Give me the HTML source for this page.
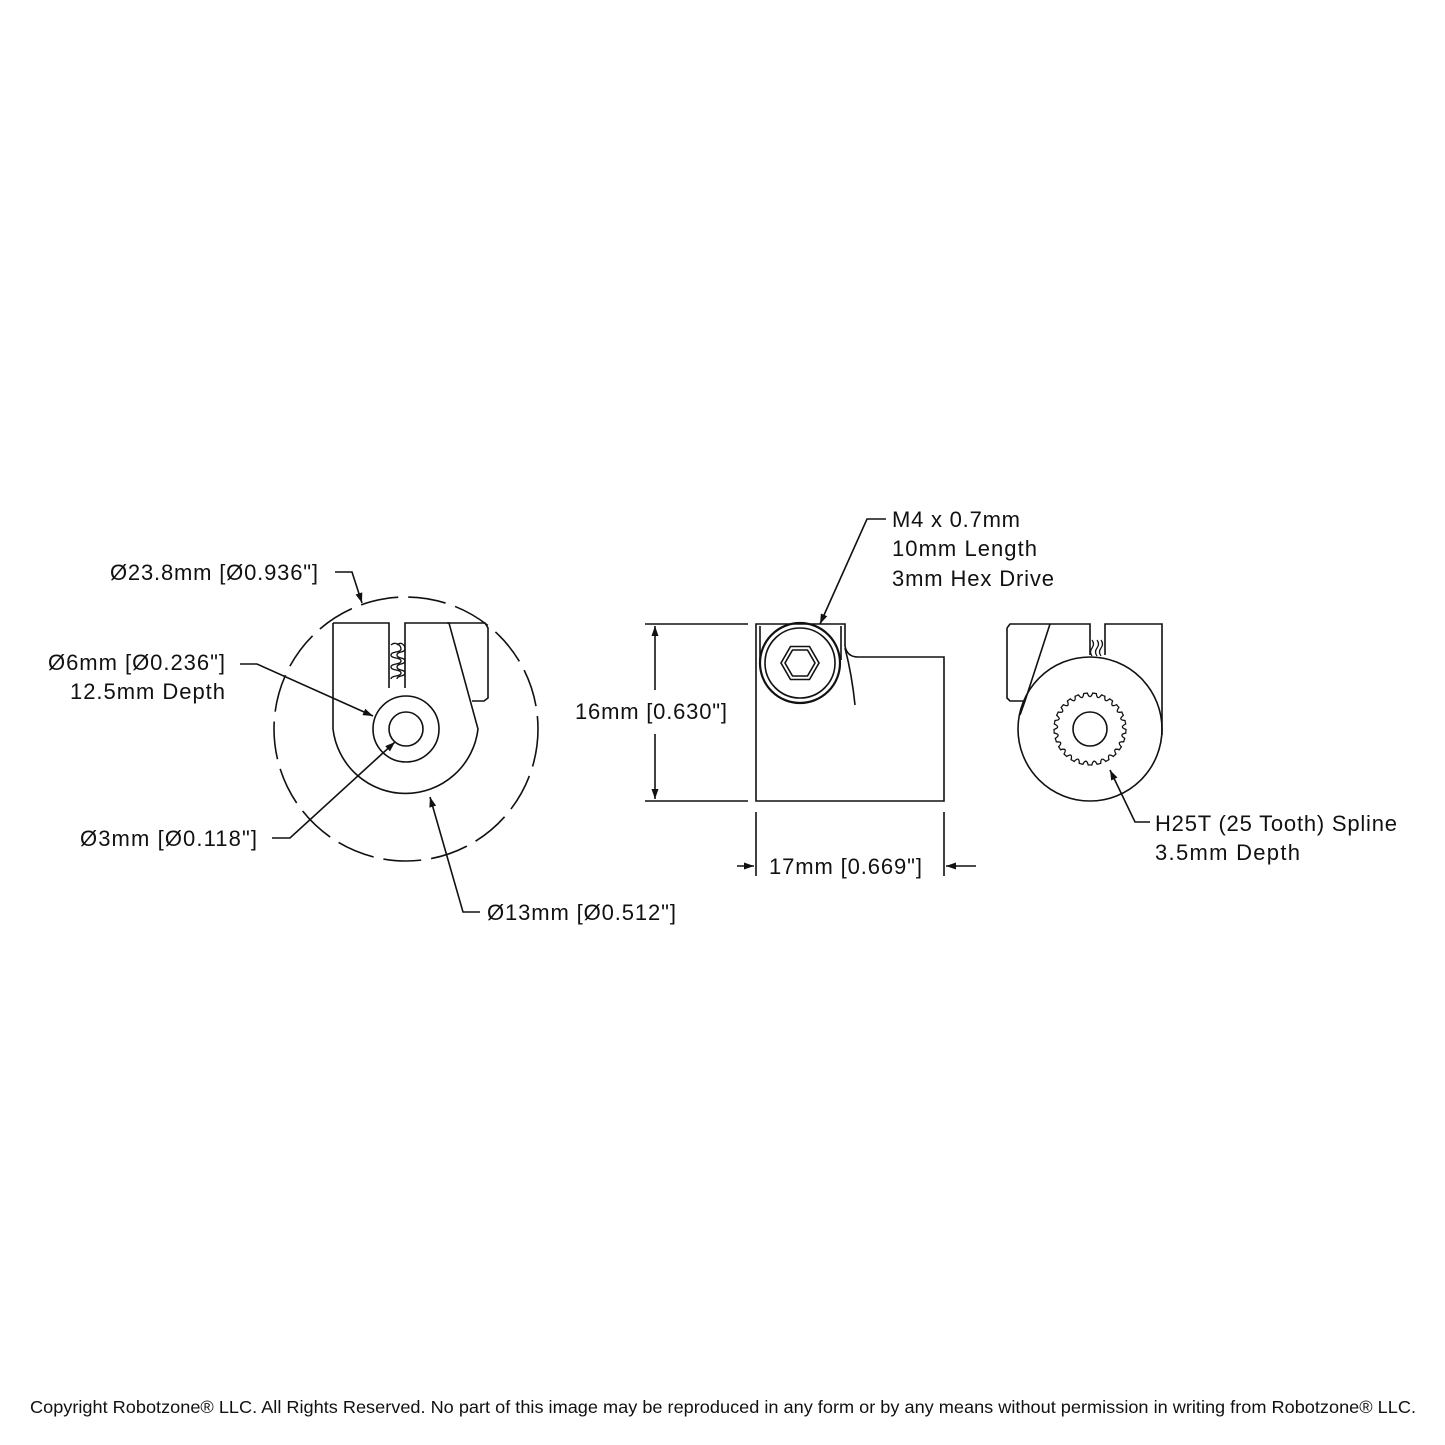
<!DOCTYPE html>
<html><head><meta charset="utf-8"><style>
html,body{margin:0;padding:0;background:#fff}
svg{display:block}
text{font-family:"Liberation Sans",sans-serif;fill:#111}
</style></head><body>
<svg width="1445" height="1445" viewBox="0 0 1445 1445">
<defs>
<marker id="a" viewBox="0 0 10 10" refX="10" refY="5" markerWidth="14" markerHeight="10" markerUnits="userSpaceOnUse" orient="auto"><path d="M0,1.5 L10,5 L0,8.5 z" fill="#111"/></marker>
<path id="t" d="M1085.5,693.3 L1087.3,693.1 Q1090,700 1092.7,693.1 L1094.5,693.3" fill="none" stroke="#111" stroke-width="1.3"/>
</defs>
<g fill="none" stroke="#111" stroke-width="1.6">
<!-- LEFT VIEW -->
<circle cx="406" cy="729" r="132" stroke-dasharray="38,10"/>
<path d="M333,623 V729 A73,73 0 0 0 478,729 L449,623 H405 V688 M389,688 V623 H333"/>
<path d="M447,623 H485 L488,628 V698 L484,701 H472"/>
<circle cx="406" cy="729" r="33"/>
<circle cx="406" cy="729" r="17"/>
<path d="M391,645 c4,-4 10,0 10,4 c0,4 -10,2 -10,6 c0,4 10,2 10,6 c0,4 -10,2 -10,6 c0,4 10,2 10,6 c0,4 -10,2 -10,6 M397,645 c4,-4 8,0 8,4 c0,4 -8,2 -8,6 c0,4 8,2 8,6 c0,4 -8,2 -8,6 c0,4 8,2 8,6 c0,4 -8,2 -8,6" stroke-width="1.3"/>
<!-- left leaders -->
<path d="M335,572 H352 L362,603" marker-end="url(#a)"/>
<path d="M240,664 H257 L373,716" marker-end="url(#a)"/>
<path d="M272,838 H290 L395,742" marker-end="url(#a)"/>
<path d="M480,912 H463 L430,797" marker-end="url(#a)"/>
<!-- MIDDLE VIEW -->
<path d="M756,624 H845 V646 Q847,657 858,657 H944 V801 H756 Z"/>
<path d="M845,648 Q852,675 855,705"/>
<path d="M760,626 V660 M841,626 V660"/>
<circle cx="800" cy="663" r="40" stroke-width="2.2"/>
<circle cx="800" cy="663" r="35"/>
<polygon points="819,663 809.5,679.5 790.5,679.5 781,663 790.5,646.5 809.5,646.5"/>
<polygon points="815,663 807.5,676 792.5,676 785,663 792.5,650 807.5,650"/>
<path d="M645,624 H748 M645,801 H748"/>
<path d="M655,690 V626" marker-end="url(#a)"/>
<path d="M655,734 V799" marker-end="url(#a)"/>
<path d="M756,812 V876 M944,812 V876"/>
<path d="M737,866 H754" marker-end="url(#a)"/>
<path d="M976,866 H946" marker-end="url(#a)"/>
<path d="M886,519 H867 L820,624" marker-end="url(#a)"/>
<!-- RIGHT VIEW -->
<path d="M1007,628 L1010,624 H1090 V655 M1105,655 V624 H1162 V735"/>
<path d="M1007,628 V698 L1010,701 H1025"/>
<path d="M1050,624 L1025,701 L1020,715"/>
<circle cx="1090" cy="729" r="72"/>
<circle cx="1090" cy="729" r="17"/>
<path d="M1092,640 q3,4 0,8 q-3,4 0,8 M1097,640 q3,4 0,8 q-3,4 0,8 M1101,640 q3,4 0,8 q-3,4 0,8" stroke-width="1.3"/>
<path d="M1150,822 H1135 L1110,770" marker-end="url(#a)"/>
</g>
<g>
<use href="#t" transform="rotate(0 1090 729)"/><use href="#t" transform="rotate(14.4 1090 729)"/><use href="#t" transform="rotate(28.8 1090 729)"/><use href="#t" transform="rotate(43.2 1090 729)"/><use href="#t" transform="rotate(57.6 1090 729)"/>
<use href="#t" transform="rotate(72 1090 729)"/><use href="#t" transform="rotate(86.4 1090 729)"/><use href="#t" transform="rotate(100.8 1090 729)"/><use href="#t" transform="rotate(115.2 1090 729)"/><use href="#t" transform="rotate(129.6 1090 729)"/>
<use href="#t" transform="rotate(144 1090 729)"/><use href="#t" transform="rotate(158.4 1090 729)"/><use href="#t" transform="rotate(172.8 1090 729)"/><use href="#t" transform="rotate(187.2 1090 729)"/><use href="#t" transform="rotate(201.6 1090 729)"/>
<use href="#t" transform="rotate(216 1090 729)"/><use href="#t" transform="rotate(230.4 1090 729)"/><use href="#t" transform="rotate(244.8 1090 729)"/><use href="#t" transform="rotate(259.2 1090 729)"/><use href="#t" transform="rotate(273.6 1090 729)"/>
<use href="#t" transform="rotate(288 1090 729)"/><use href="#t" transform="rotate(302.4 1090 729)"/><use href="#t" transform="rotate(316.8 1090 729)"/><use href="#t" transform="rotate(331.2 1090 729)"/><use href="#t" transform="rotate(345.6 1090 729)"/>
</g>
<g font-size="22" lengthAdjust="spacingAndGlyphs">
<text x="110" y="580" textLength="208">Ø23.8mm [Ø0.936"]</text>
<text x="48" y="670" textLength="177">Ø6mm [Ø0.236"]</text>
<text x="70" y="699" textLength="155">12.5mm Depth</text>
<text x="80" y="846" textLength="177">Ø3mm [Ø0.118"]</text>
<text x="487" y="920" textLength="189">Ø13mm [Ø0.512"]</text>
<text x="575" y="719" textLength="152">16mm [0.630"]</text>
<text x="769" y="874" textLength="153">17mm [0.669"]</text>
<text x="892" y="527" textLength="128">M4 x 0.7mm</text>
<text x="892" y="556" textLength="145">10mm Length</text>
<text x="892" y="586" textLength="162">3mm Hex Drive</text>
<text x="1155" y="831" textLength="242">H25T (25 Tooth) Spline</text>
<text x="1155" y="860" textLength="145">3.5mm Depth</text>
</g>
<text x="30" y="1413" font-size="17.5" textLength="1386" lengthAdjust="spacingAndGlyphs">Copyright Robotzone® LLC.  All Rights Reserved. No part of this image may be reproduced in any form or by any means without permission in writing from Robotzone® LLC.</text>
</svg>
</body></html>
